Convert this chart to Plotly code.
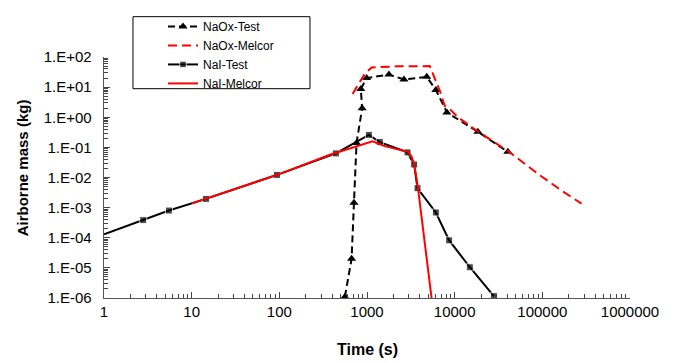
import plotly.graph_objects as go

# ---- data ----
naox_test_t = [560, 667, 710, 760, 880, 850, 990, 1780, 2640, 4800, 6100, 8150, 18400, 40400]
naox_test_v = [1.1e-6, 2.0e-5, 1.45e-3, 0.14, 2.0, 8.7, 20, 26, 18, 22, 8.1, 1.45, 0.33, 0.071]

naox_melcor_t = [684, 946, 1130, 2180, 5200, 6100, 6800, 7700, 8800, 10900, 16300, 42600, 93000, 170000, 280000]
naox_melcor_v = [5.9, 28, 45, 49, 50, 15, 7.3, 2.4, 1.86, 1.0, 0.43, 0.068, 0.012, 3.5e-3, 1.35e-3]

nai_test_t = [1, 2.8, 5.5, 14.6, 94, 442, 1050, 1400, 2900, 3450, 3770, 6100, 8650, 14900, 28000]
nai_test_v = [1.3e-4, 3.85e-4, 8.0e-4, 1.95e-3, 1.22e-2, 0.063, 0.26, 0.15, 0.068, 0.027, 4.4e-3, 6.9e-4, 8.2e-5, 1.05e-5, 1.15e-6]

nai_melcor_t = [10, 100, 377, 1156, 1590, 2170, 2930, 3220, 3450, 3800, 4370, 4900, 5450]
nai_melcor_v = [1.38e-3, 1.3e-2, 0.057, 0.16, 0.11, 0.087, 0.071, 0.05, 0.027, 5e-3, 1.9e-4, 1e-5, 1e-6]

x_tick_vals = [1, 10, 100, 1000, 10000, 100000, 1000000]
x_tick_text = ["1", "10", "100", "1000", "10000", "100000", "1000000"]
y_tick_vals = [1e2, 1e1, 1e0, 1e-1, 1e-2, 1e-3, 1e-4, 1e-5, 1e-6]
y_tick_text = ["1.E+02", "1.E+01", "1.E+00", "1.E-01", "1.E-02", "1.E-03", "1.E-04", "1.E-05", "1.E-06"]

FONT = "Liberation Sans, Arial, sans-serif"
NBSP = "\u00a0"


def minor_vals(exp_lo, exp_hi):
    return [k * 10.0 ** e for e in range(exp_lo, exp_hi) for k in range(2, 10)]


fig = go.Figure()
fig.add_trace(go.Scatter(
    x=naox_test_t, y=naox_test_v, name="NaOx-Test", mode="lines+markers",
    line=dict(color="black", width=2, dash="7px,4px"),
    marker=dict(symbol="triangle-up", size=8, color="black"),
))
fig.add_trace(go.Scatter(
    x=naox_melcor_t, y=naox_melcor_v, name="NaOx-Melcor", mode="lines",
    line=dict(color="#ff0000", width=2, dash="9px,5px"),
))
nai_sizes = [0] + [7] * (len(nai_test_t) - 1)
fig.add_trace(go.Scatter(
    x=nai_test_t, y=nai_test_v, name="NaI-Test", mode="lines+markers",
    line=dict(color="black", width=2),
    marker=dict(symbol="square", size=nai_sizes, color="black"),
))
fig.add_trace(go.Scatter(
    x=nai_melcor_t, y=nai_melcor_v, name="NaI-Melcor", mode="lines",
    line=dict(color="#ff0000", width=2),
))

fig.update_xaxes(type="log", range=[0, 6], tickmode="array",
                 tickvals=x_tick_vals, ticktext=x_tick_text,
                 ticks="inside", ticklen=6, tickwidth=1, tickcolor="#444",
                 showline=True, linecolor="#555", linewidth=1,
                 showgrid=False, zeroline=False,
                 tickfont=dict(family=FONT, size=15, color="black"),
                 minor=dict(ticks="inside", ticklen=4, tickwidth=1, tickcolor="#444",
                            tickmode="array", tickvals=minor_vals(0, 6), showgrid=False))
fig.update_yaxes(type="log", range=[-6, 2], tickmode="array",
                 tickvals=y_tick_vals, ticktext=[t + NBSP * 2 for t in y_tick_text],
                 ticks="inside", ticklen=6, tickwidth=1, tickcolor="#444",
                 showline=True, linecolor="#555", linewidth=1,
                 showgrid=False, zeroline=False,
                 tickfont=dict(family=FONT, size=15, color="black"),
                 minor=dict(ticks="inside", ticklen=4, tickwidth=1, tickcolor="#444",
                            tickmode="array", tickvals=minor_vals(-6, 2), showgrid=False))

fig.add_annotation(text="<b>Time (s)</b>", xref="paper", yref="paper", x=0.5, y=-0.215,
                   xanchor="center", yanchor="middle", showarrow=False,
                   font=dict(family=FONT, size=16, color="black"))
fig.add_annotation(text="<b>Airborne mass (kg)</b>", xref="paper", yref="paper", x=-0.156, y=0.542,
                   xanchor="center", yanchor="middle", showarrow=False, textangle=-90,
                   font=dict(family=FONT, size=15, color="black"))

fig.add_shape(type="rect", xref="paper", yref="paper",
              x0=0.0551, x1=0.3916, y0=0.8685, y1=1.1673,
              line=dict(color="black", width=1), fillcolor="rgba(0,0,0,0)", layer="above")

fig.update_layout(
    width=674, height=363,
    margin=dict(l=104, r=44, t=47, b=65),
    paper_bgcolor="white", plot_bgcolor="white",
    showlegend=True,
    legend=dict(x=0.1122, y=1.187, xanchor="left", yanchor="top",
                bgcolor="rgba(0,0,0,0)", borderwidth=0,
                font=dict(family=FONT, size=12, color="black"),
                itemwidth=30),
)

fig.write_html("out.html")
